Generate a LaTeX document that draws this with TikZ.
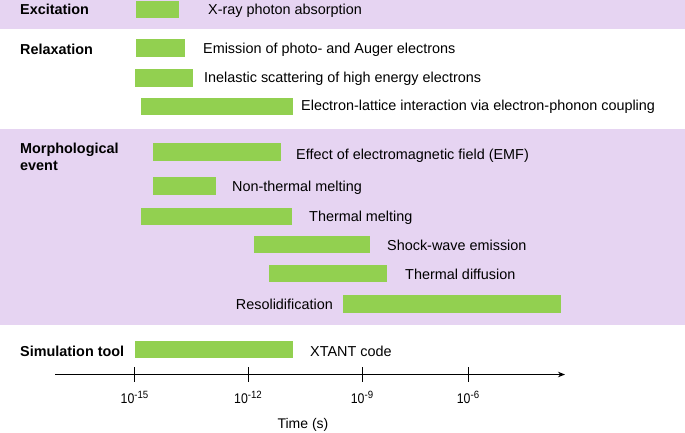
\documentclass[tikz,border=0pt]{standalone}
\usepackage{fontspec}
\setmainfont{Liberation Sans}
\usetikzlibrary{arrows.meta}
\definecolor{lav}{HTML}{E6D4F2}
\definecolor{barg}{HTML}{92D050}
\newcommand{\tlab}[1]{{\fontsize{14}{16}\selectfont\scalebox{0.88}[1]{10}}\raisebox{4.5pt}{\fontsize{10.5}{12}\selectfont\scalebox{0.92}[1]{#1}}}
\tikzset{
  bar/.style={fill=barg, draw=none, inner sep=0pt, minimum height=17.5pt},
  lbl/.style={anchor=base west, inner sep=0pt, font=\fontsize{14.4}{16}\selectfont},
  rlbl/.style={anchor=base east, inner sep=0pt, font=\fontsize{14.4}{16}\selectfont},
  sec/.style={anchor=base west, inner sep=0pt, font=\fontsize{14.4}{16}\selectfont\bfseries},
  ticklbl/.style={anchor=base, inner sep=0pt},
  axline/.style={line width=0.9pt, -{Stealth[length=7pt,width=5.5pt]}},
  tick/.style={line width=0.9pt}
}
\begin{document}
\begin{tikzpicture}[x=1pt,y=-1pt]
\useasboundingbox (0,0) rectangle (685,432);
\fill[lav] (0,0) rectangle (685,29);
\fill[lav] (0,129) rectangle (685,325);
% section titles
\node[sec] (sExc) at (20,14) {Excitation};
\node[sec] (sRel) at (20,54) {Relaxation};
\node[sec] (sMor1) at (20,153) {Morphological};
\node[sec] (sMor2) at (20,170) {event};
\node[sec] (sSim) at (20,356) {Simulation tool};
% bars
\node[bar, minimum width=43pt, minimum height=17pt] (b1) at (157.5,9) {};
\node[bar, minimum width=49pt] (b2) at (160.5,48) {};
\node[bar, minimum width=58pt] (b3) at (164,78) {};
\node[bar, minimum width=152pt] (b4) at (217,106.5) {};
\node[bar, minimum width=128pt] (b5) at (217,152) {};
\node[bar, minimum width=63pt] (b6) at (184.5,186) {};
\node[bar, minimum width=151pt] (b7) at (216.5,216.5) {};
\node[bar, minimum width=116pt] (b8) at (312,244.5) {};
\node[bar, minimum width=118pt] (b9) at (328,273.5) {};
\node[bar, minimum width=218pt] (b10) at (452,304) {};
\node[bar, minimum width=158pt] (b11) at (214,349.5) {};
% labels
\node[lbl] (t1) at (208,14) {X-ray photon absorption};
\node[lbl] (t2) at (203,53) {Emission of photo- and Auger electrons};
\node[lbl] (t3) at (204,82) {Inelastic scattering of high energy electrons};
\node[lbl] (t4) at (301,110) {Electron-lattice interaction via electron-phonon coupling};
\node[lbl] (t5) at (296,159) {Effect of electromagnetic field (EMF)};
\node[lbl] (t6) at (232,191) {Non-thermal melting};
\node[lbl] (t7) at (309,221) {Thermal melting};
\node[lbl] (t8) at (387,250) {Shock-wave emission};
\node[lbl] (t9) at (405,279) {Thermal diffusion};
\node[rlbl] (t10) at (333,309) {Resolidification};
\node[lbl] (t11) at (310,356) {XTANT code};
% axis
\coordinate (axL) at (55,374.5);
\coordinate (axR) at (565,374.5);
\draw[axline] (axL) -- (axR);
\foreach \x/\e/\n in {134.5/-15/a,248/-12/b,362/-9/c,468/-6/d}{
  \coordinate (k\n) at (\x,374.5);
  \draw[tick] ([yshift=-7pt]k\n) -- ([yshift=8pt]k\n);
  \node[ticklbl] (l\n) at (\x,403) {\tlab{\e}};
}
\node[ticklbl, font=\fontsize{14}{16}\selectfont] (tl) at (303,428) {Time (s)};
\end{tikzpicture}
\end{document}
